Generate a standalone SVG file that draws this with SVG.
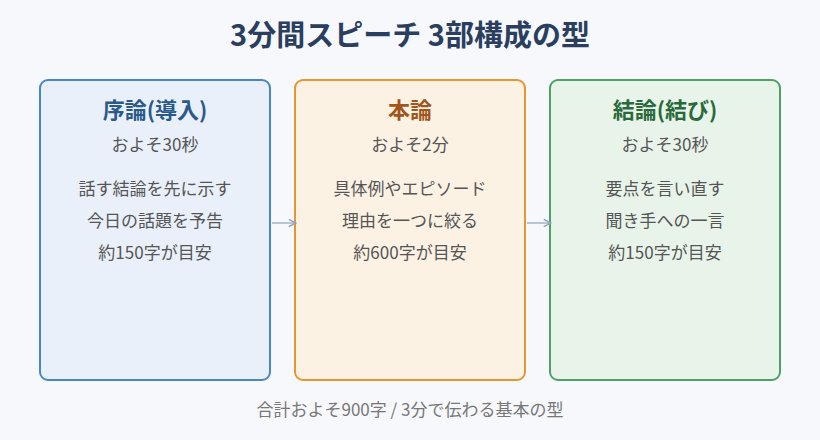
<svg xmlns="http://www.w3.org/2000/svg" width="820" height="440" viewBox="0 0 820 440">
<style>
text{font-family:"Noto Sans CJK JP","Noto Sans",sans-serif;text-anchor:middle}
.t{font-size:22px;font-weight:bold}
.s{font-size:17px;fill:#555}
.b{font-size:17px;fill:#555}
</style>
<defs><marker id="a" markerWidth="8" markerHeight="8" refX="7" refY="4" orient="auto"><path d="M1,1 L7,4 L1,7" fill="none" stroke="#8fa3b8" stroke-width="1.2"/></marker></defs>
<rect width="820" height="440" fill="#f6f8fb"/>
<text x="410" y="46" style="font-size:29px;font-weight:bold;fill:#2a3f5f">3分間スピーチ 3部構成の型</text>
<g id="n1"><rect x="40" y="80" width="230" height="300" rx="8" fill="#e9f0f9" stroke="#4a86c6" stroke-width="2"/>
<text class="t" x="155" y="118" fill="#2a5a8a">序論(導入)</text><text class="s" x="155" y="151">およそ30秒</text>
<text class="b" x="155" y="195">話す結論を先に示す</text><text class="b" x="155" y="227">今日の話題を予告</text><text class="b" x="155" y="259">約150字が目安</text></g>
<g id="n2"><rect x="295" y="80" width="230" height="300" rx="8" fill="#fcf2e4" stroke="#e4962f" stroke-width="2"/>
<text class="t" x="410" y="118" fill="#a0561a">本論</text><text class="s" x="410" y="151">およそ2分</text>
<text class="b" x="410" y="195">具体例やエピソード</text><text class="b" x="410" y="227">理由を一つに絞る</text><text class="b" x="410" y="259">約600字が目安</text></g>
<g id="n3"><rect x="550" y="80" width="230" height="300" rx="8" fill="#e8f4ea" stroke="#4aa363" stroke-width="2"/>
<text class="t" x="665" y="118" fill="#2a6a3a">結論(結び)</text><text class="s" x="665" y="151">およそ30秒</text>
<text class="b" x="665" y="195">要点を言い直す</text><text class="b" x="665" y="227">聞き手への一言</text><text class="b" x="665" y="259">約150字が目安</text></g>
<g id="edges" stroke="#8fa3b8" stroke-width="1.2"><line x1="272" y1="223" x2="296" y2="223" marker-end="url(#a)"/><line x1="527" y1="223" x2="551" y2="223" marker-end="url(#a)"/></g>
<text x="410" y="416" style="font-size:17px;fill:#777">合計およそ900字 / 3分で伝わる基本の型</text>
</svg>
